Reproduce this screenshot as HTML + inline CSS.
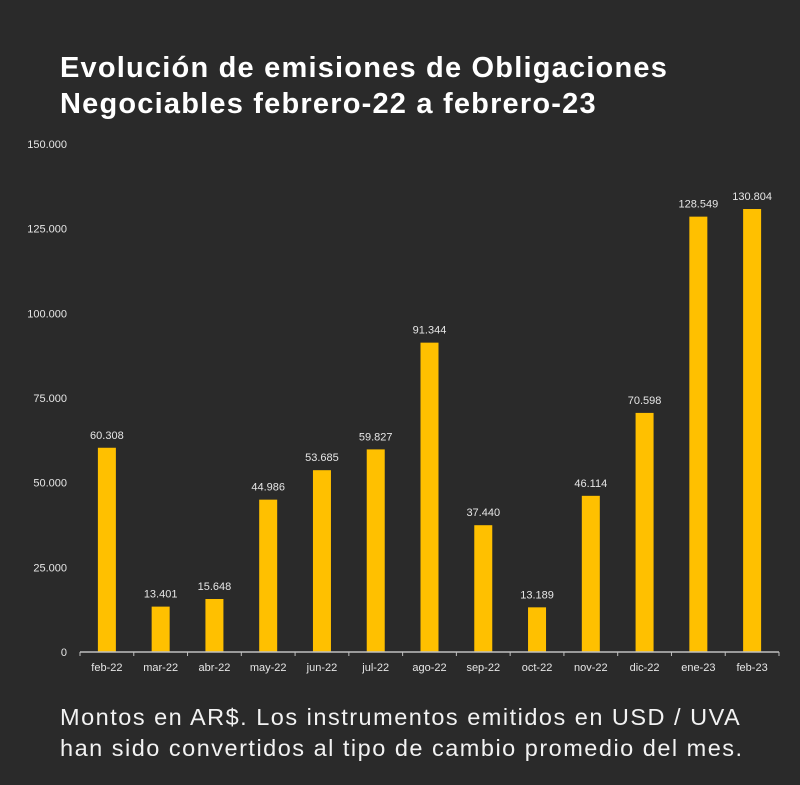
<!DOCTYPE html>
<html><head><meta charset="utf-8"><style>
body{margin:0;background:#2a2a2a;}
#c{position:relative;width:800px;height:785px;background:#2a2a2a;font-family:"Liberation Sans",sans-serif;color:#fff;overflow:hidden}
.t{position:absolute;left:60px;top:50px;font-size:29px;letter-spacing:1.2px;font-weight:bold;line-height:36px}
.f{position:absolute;left:60px;top:702px;font-size:23.5px;letter-spacing:1.5px;line-height:31px;color:#f2f2f2}
svg{position:absolute;left:0;top:0}
</style></head><body>
<div id="c">
<div class="t">Evolución de emisiones de Obligaciones<br>Negociables febrero-22 a febrero-23</div>
<svg id="s" width="800" height="785"></svg>
<div class="f">Montos en AR$. Los instrumentos emitidos en USD / UVA<br>han sido convertidos al tipo de cambio promedio del mes.</div>
</div>
<script>
const categories=["feb-22","mar-22","abr-22","may-22","jun-22","jul-22","ago-22","sep-22","oct-22","nov-22","dic-22","ene-23","feb-23"];
const values=[60308,13401,15648,44986,53685,59827,91344,37440,13189,46114,70598,128549,130804];
const valueLabels=["60.308","13.401","15.648","44.986","53.685","59.827","91.344","37.440","13.189","46.114","70.598","128.549","130.804"];
const yTicks=[0,25000,50000,75000,100000,125000,150000];
const yTickLabels=["0","25.000","50.000","75.000","100.000","125.000","150.000"];
const s=document.getElementById('s');const NS='http://www.w3.org/2000/svg';
const x0=80,x1=779,y0=652,y1=144,yMax=150000;
const bw=(x1-x0)/categories.length;
const y=v=>y0-(v/yMax)*(y0-y1);
const xc=i=>x0+bw*(i+0.5);
function mk(t,a){const e=document.createElementNS(NS,t);for(const k in a)e.setAttribute(k,a[k]);s.appendChild(e);return e;}
yTicks.forEach((v,i)=>{const e=mk('text',{x:67,y:y(v)+4,'text-anchor':'end','font-size':11,fill:'#e6e6e6'});e.textContent=yTickLabels[i];

});
categories.forEach((c,i)=>{
const r=mk('rect',{x:xc(i)-9,y:y(values[i]),width:18,height:y0-y(values[i]),fill:'#ffc000'});


const l=mk('text',{x:xc(i),y:y(values[i])-9,'text-anchor':'middle','font-size':11,fill:'#e6e6e6'});l.textContent=valueLabels[i];


const t=mk('text',{x:xc(i),y:671,'text-anchor':'middle','font-size':11,fill:'#e6e6e6'});t.textContent=c;


});
const ax=mk('line',{x1:x0,y1:y0,x2:x1,y2:y0,stroke:'#bfbfbf','stroke-width':1.5});


for(let i=0;i<=categories.length;i++){const tk=mk('line',{x1:x0+bw*i,y1:y0,x2:x0+bw*i,y2:y0+4,stroke:'#bfbfbf'});

}
</script>
</body></html>
